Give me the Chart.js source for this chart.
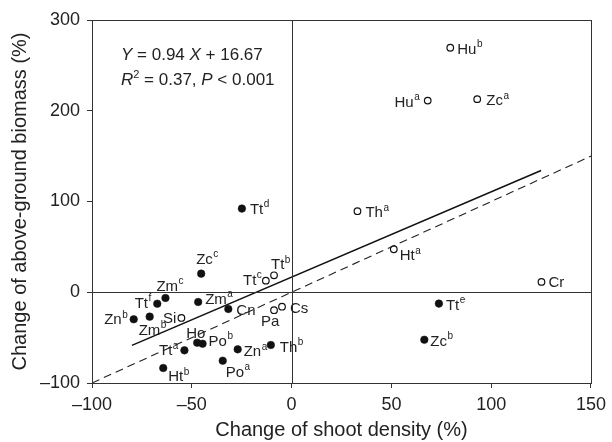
<!DOCTYPE html>
<html>
<head>
<meta charset="utf-8">
<script src="https://cdn.jsdelivr.net/npm/chart.js@4.4.1/dist/chart.umd.min.js"></script>
<style>
  html, body { margin: 0; padding: 0; background: #fff; }
  #wrap { width: 612px; height: 442px; }
</style>
</head>
<body>
<div id="wrap"><canvas id="c" width="612" height="442"></canvas></div>
<script>
// ---- data ----
const closedNames = ['Tt','Zc','Zm','Tt','Zm','Cn','Zn','Zm','Ho','Po','Tt','Zn','Th','Po','Ht','Tt','Zc'];
const closedSups  = ['d','c','c','f','a','','b','b','','b','a','a','b','a','b','e','b'];
const closedX = [-24.9, -45.3, -63.2, -67.3, -46.8, -31.7, -79.1, -71.1, -47.3, -44.6, -53.7, -27.0, -10.4, -34.5, -64.3, 73.8, 66.5];
const closedY = [92.2, 20.5, -6.3, -12.6, -10.7, -18.4, -29.8, -26.9, -55.6, -56.7, -64.0, -62.9, -58.1, -75.4, -83.5, -12.5, -52.3];

const openNames = ['Si','Tt','Tt','Pa','Cs','Hu','Hu','Zc','Th','Ht','Cr'];
const openSups  = ['','c','b','','','b','a','a','a','a',''];
const openX = [-55.2, -12.9, -8.8, -8.8, -4.8, 79.5, 68.2, 93.0, 33.0, 51.2, 125.2];
const openY = [-28.3, 12.8, 18.7, -19.8, -15.9, 269.4, 211.2, 212.8, 89.3, 47.4, 11.4];

// regression line end points (Y = 0.94 X + 16.67) and 1:1 line
const fitX = [-80, 125];
const fitY = [-58.5, 134.2];
const oneToOneX = [-100, 150];
const oneToOneY = [-100, 150];

const xTicks = [-100, -50, 0, 50, 100, 150];
const yTicks = [-100, 0, 100, 200, 300];

// ---- label placement (layout only): [align, dx, dy] relative to the point, in px ----
const closedPlace = [
  ['left', 8, 5], ['left', -5, -10], ['left', -9, -7], ['right', -6, 4], ['left', 7, 2],
  ['left', 8, 6], ['right', -6, 5], ['left', -11, 18], ['left', -11, -5], ['left', 6, 2],
  ['right', -6, 5], ['left', 6, 7], ['left', 9, 7], ['left', 3, 16], ['left', 5, 13],
  ['left', 7, 6], ['left', 6, 6]
];
const openPlace = [
  ['right', -5, 5], ['right', -4, 4], ['left', -3, -6], ['left', -13, 16], ['left', 8, 6],
  ['left', 7, 6], ['right', -8, 6], ['left', 9, 6], ['left', 8, 6], ['left', 6, 11], ['left', 7, 5]
];

const FONT = '"Liberation Sans", Arial, Helvetica, sans-serif';
const INK = '#222';

function pts(xs, ys) { return xs.map((x, i) => ({ x: x, y: ys[i] })); }

const labelPlugin = {
  id: 'labels',
  afterDatasetsDraw(chart) {
    const ctx = chart.ctx;
    const xs = chart.scales.x, ys = chart.scales.y;
    const ca = chart.chartArea;
    ctx.save();
    // frame box and zero lines
    ctx.strokeStyle = '#333';
    ctx.lineWidth = 1;
    ctx.strokeRect(Math.round(ca.left) + 0.5, Math.round(ca.top) + 0.5, Math.round(ca.right - ca.left), Math.round(ca.bottom - ca.top));
    const x0 = Math.round(xs.getPixelForValue(0)) + 0.5;
    const y0 = Math.round(ys.getPixelForValue(0)) + 0.5;
    ctx.beginPath();
    ctx.moveTo(x0, ca.top); ctx.lineTo(x0, ca.bottom);
    ctx.moveTo(ca.left, y0); ctx.lineTo(ca.right, y0);
    ctx.stroke();

    // point labels
    ctx.fillStyle = INK;
    ctx.textBaseline = 'alphabetic';
    const mainFont = '15px ' + FONT;
    const supFont = '10px ' + FONT;
    function drawSet(names, sups, X, Y, place) {
      names.forEach((n, i) => {
        const px = xs.getPixelForValue(X[i]);
        const py = ys.getPixelForValue(Y[i]);
        const [al, dx, dy] = place[i];
        ctx.font = mainFont;
        const w1 = ctx.measureText(n).width;
        ctx.font = supFont;
        const w2 = sups[i] ? ctx.measureText(sups[i]).width + 0.5 : 0;
        let left = px + dx;
        if (al === 'right') left = px + dx - w1 - w2;
        ctx.textAlign = 'left';
        ctx.font = mainFont;
        ctx.fillText(n, left, py + dy);
        if (sups[i]) {
          ctx.font = supFont;
          ctx.fillText(sups[i], left + w1 + 0.5, py + dy - 6.5);
        }
      });
    }
    drawSet(closedNames, closedSups, closedX, closedY, closedPlace);
    drawSet(openNames, openSups, openX, openY, openPlace);

    // equation text
    function seg(parts, x, y) {
      let cx = x;
      parts.forEach(p => {
        ctx.font = (p.i ? 'italic ' : '') + (p.s || 17) + 'px ' + FONT;
        ctx.fillText(p.t, cx, y + (p.dy || 0));
        cx += ctx.measureText(p.t).width;
      });
    }
    seg([{t:'Y', i:true}, {t:' = 0.94 '}, {t:'X', i:true}, {t:' + 16.67'}], 121, 60);
    seg([{t:'R', i:true}, {t:'2', s:11, dy:-7}, {t:' = 0.37, '}, {t:'P', i:true}, {t:' < 0.001'}], 121, 85);
    ctx.restore();
  }
};

const fmt = v => (v < 0 ? '\u2013' + Math.abs(v) : String(v));

new Chart(document.getElementById('c'), {
  type: 'scatter',
  data: {
    datasets: [
      { type: 'line', data: pts(oneToOneX, oneToOneY), borderColor: '#222', borderWidth: 1.1,
        borderDash: [8, 5], pointRadius: 0, fill: false },
      { type: 'line', data: pts(fitX, fitY), borderColor: '#111', borderWidth: 1.5,
        pointRadius: 0, fill: false },
      { data: pts(closedX, closedY), pointRadius: 3.8, backgroundColor: '#111', borderColor: '#111',
        borderWidth: 0.5 },
      { data: pts(openX, openY), pointRadius: 3.3, backgroundColor: '#fff', borderColor: '#111',
        borderWidth: 1.2 }
    ]
  },
  options: {
    responsive: false,
    animation: false,
    devicePixelRatio: 1,
    layout: { padding: { left: 0, right: 17, top: 20, bottom: 0 } },
    plugins: { legend: { display: false }, tooltip: { enabled: false } },
    scales: {
      x: {
        type: 'linear', min: -100, max: 150,
        afterBuildTicks: s => { s.ticks = xTicks.map(v => ({ value: v })); },
        afterFit: s => { s.height = 59; },
        ticks: { callback: fmt, font: { family: FONT, size: 18 }, color: INK, padding: 6, maxRotation: 0 },
        grid: { display: true, drawOnChartArea: false, drawTicks: true, tickLength: 5, color: '#333', tickColor: '#333' },
        border: { display: true, color: '#333', width: 1 },
        title: { display: true, text: 'Change of shoot density (%)', font: { family: FONT, size: 20 }, color: INK,
                 padding: { top: 0, bottom: 0 } }
      },
      y: {
        type: 'linear', min: -100, max: 300,
        afterBuildTicks: s => { s.ticks = yTicks.map(v => ({ value: v })); },
        afterFit: s => { s.width = 92; },
        ticks: { callback: fmt, font: { family: FONT, size: 18 }, color: INK, padding: 7 },
        grid: { display: true, drawOnChartArea: false, drawTicks: true, tickLength: 5, color: '#333', tickColor: '#333' },
        border: { display: true, color: '#333', width: 1 },
        title: { display: true, text: 'Change of above-ground biomass (%)', font: { family: FONT, size: 20 }, color: INK,
                 padding: { top: 8, bottom: 0 } }
      }
    }
  },
  plugins: [labelPlugin]
});
</script>
</body>
</html>
